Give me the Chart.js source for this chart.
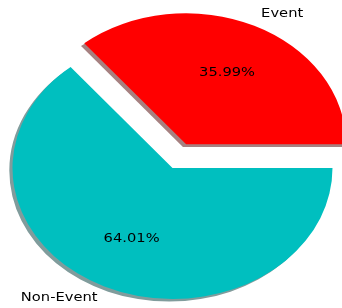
<!DOCTYPE html>
<html><head><meta charset="utf-8">
<script src="https://cdn.jsdelivr.net/npm/chart.js@4/dist/chart.umd.min.js"></script>
<style>html,body{margin:0;padding:0;background:#fff;overflow:hidden;}</style>
</head><body>
<canvas id="c" width="342" height="308" style="display:block;width:342px;height:308px"></canvas>
<script>
const categories = ['Event', 'Non-Event'];
const values = [35.99, 64.01];
const colors = ['#ff0000', '#00bfbf'];
const shadowColors = ['rgb(166,128,128)', 'rgb(128,156,156)'];
const explode = [0.2, 0];

const total = values.reduce((a, b) => a + b, 0);
const Y_SCALE = 131 / 160;
const FONT = '14.7px "DejaVu Sans", sans-serif';

function shiftOf(a, i) {
  const mid = (a.startAngle + a.endAngle) / 2;
  const R = a.outerRadius;
  return [explode[i] * R * Math.cos(mid), explode[i] * R * Math.sin(mid), mid];
}

const mplPie = {
  id: 'mplPie',
  beforeDatasetsDraw(chart) {
    const ctx = chart.ctx;
    const arcs = chart.getDatasetMeta(0).data;
    const cx = arcs[0].x, cy = arcs[0].y;
    // shadows
    arcs.forEach((a, i) => {
      const [dx, dy] = shiftOf(a, i);
      const R = a.outerRadius;
      ctx.save();
      ctx.translate(cx, cy); ctx.scale(1, Y_SCALE); ctx.translate(-cx, -cy);
      ctx.translate(dx - 0.02 * R, dy + 0.02 * R);
      ctx.beginPath();
      ctx.moveTo(a.x, a.y);
      ctx.arc(a.x, a.y, R, a.startAngle, a.endAngle);
      ctx.closePath();
      ctx.fillStyle = shadowColors[i];
      ctx.fill();
      ctx.restore();
    });
    // wedges
    arcs.forEach((a, i) => {
      const [dx, dy] = shiftOf(a, i);
      ctx.save();
      ctx.translate(cx, cy); ctx.scale(1, Y_SCALE); ctx.translate(-cx, -cy);
      ctx.translate(dx, dy);
      a.draw(ctx);
      ctx.restore();
    });
    return false;
  },
  afterDraw(chart) {
    const ctx = chart.ctx;
    const arcs = chart.getDatasetMeta(0).data;
    const cx = arcs[0].x, cy = arcs[0].y;
    arcs.forEach((a, i) => {
      const [dx, dy, mid] = shiftOf(a, i);
      const R = a.outerRadius;
      const c = Math.cos(mid), s = Math.sin(mid);
      const put = (txt, f, align) => {
        const x = cx + dx + f * R * c;
        const y = cy + Y_SCALE * (dy + f * R * s);
        ctx.save();
        ctx.translate(x, y);
        ctx.scale(1, Y_SCALE);
        ctx.font = FONT;
        ctx.fillStyle = '#000';
        ctx.textAlign = align;
        ctx.textBaseline = 'middle';
        ctx.fillText(txt, 0, 0);
        ctx.restore();
      };
      put(categories[i], 1.1, c > 0 ? 'left' : 'right');
      put((values[i] / total * 100).toFixed(2) + '%', 0.6, 'center');
    });
  }
};

new Chart(document.getElementById('c'), {
  type: 'pie',
  data: {
    labels: categories,
    datasets: [{
      data: values,
      backgroundColor: colors,
      borderWidth: 0,
      offset: 0
    }]
  },
  options: {
    responsive: false,
    animation: false,
    devicePixelRatio: 1,
    radius: 160,
    rotation: 90 - 360 * values[0] / total,
    layout: { padding: { left: 13, right: 10, top: 28, bottom: 0 } },
    plugins: { legend: { display: false }, tooltip: { enabled: false } },
    events: []
  },
  plugins: [mplPie]
});
</script>
</body></html>
